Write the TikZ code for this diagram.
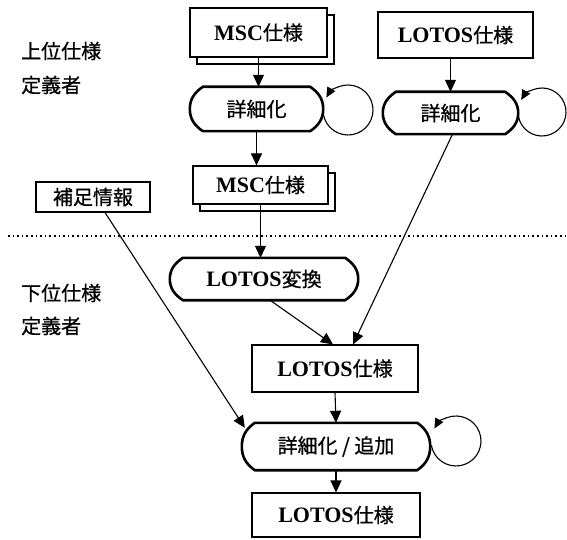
\documentclass[tikz,border=0pt]{standalone}
\usepackage{fontspec}
\setmainfont{Liberation Serif}
\newfontfamily\cjk[FakeBold=0.7]{Noto Sans CJK JP}
\usetikzlibrary{arrows.meta,shadows}
\newcommand{\jp}[1]{{\cjk\fontsize{20}{23}\selectfont #1}}
\newcommand{\lt}[1]{{\bfseries\fontsize{22}{25}\selectfont #1}}
\newcommand{\procpath}[1]{%
  \draw[procline] ([xshift=13pt]#1.north west) -- ([xshift=-13pt]#1.north east)
    to[out=-35,in=90] (#1.east) to[out=-90,in=35] ([xshift=-13pt]#1.south east)
    -- ([xshift=13pt]#1.south west) to[out=145,in=-90] (#1.west)
    to[out=90,in=-145] ([xshift=13pt]#1.north west) -- cycle;}
\begin{document}
\begin{tikzpicture}[x=1pt,y=1pt,font=\fontsize{20}{24}\selectfont,
  box/.style={draw,line width=1.1pt,fill=white,inner sep=0pt},
  shbox/.style={box,copy shadow={shadow xshift=7pt,shadow yshift=-7pt,draw,line width=1.1pt,fill=white}},
  proc/.style={inner sep=0pt},
  procline/.style={line width=2.6pt,line join=round},
  arr/.style={-{Triangle[length=12pt,width=11pt]},line width=1.1pt},
  loopline/.style={line width=1.1pt,-{Triangle[length=10pt,width=9pt]}},
  lab/.style={anchor=west,inner sep=0pt}]
\useasboundingbox (0,0) rectangle (567,539);

% labels
\node[lab] (u1) at (21,488) {\jp{上位仕様}};
\node[lab] (u2) at (21,454) {\jp{定義者}};
\node[lab] (d1) at (21,246) {\jp{下位仕様}};
\node[lab] (d2) at (21,213) {\jp{定義者}};

% dotted separator
\coordinate (sepL) at (8,303);
\coordinate (sepR) at (567,303);
\draw[line width=1.6pt,dash pattern=on 1.6pt off 3pt] (sepL) -- (sepR);

% nodes
\node[shbox,minimum width=137pt,minimum height=49pt] (msc1) at (258.5,506.5) {\lt{MSC}\jp{仕様}};
\node[proc,minimum width=133pt,minimum height=44pt] (proc1) at (256.5,430) {\jp{詳細化}};
\procpath{proc1}
\node[box,minimum width=155pt,minimum height=46pt] (lotos1) at (455.5,504) {\lt{LOTOS}\jp{仕様}};
\node[proc,minimum width=135pt,minimum height=42pt] (proc2) at (450.5,426) {\jp{詳細化}};
\procpath{proc2}
\node[shbox,minimum width=135pt,minimum height=38pt] (msc2) at (260.5,354) {\lt{MSC}\jp{仕様}};
\node[box,minimum width=114pt,minimum height=30pt] (hosoku) at (93,342) {\jp{補足情報}};
\node[proc,minimum width=188pt,minimum height=42pt] (conv) at (264,260) {\lt{LOTOS}\jp{変換}};
\procpath{conv}
\node[box,minimum width=166pt,minimum height=47pt] (lotos2) at (335,170.5) {\lt{LOTOS}\jp{仕様}};
\node[proc,minimum width=188pt,minimum height=47pt] (proc3) at (336,92.5) {\jp{詳細化 / 追加}};
\procpath{proc3}
\node[box,minimum width=168pt,minimum height=44pt] (lotos3) at (336,24) {\lt{LOTOS}\jp{仕様}};

% loops
\coordinate (c1) at (348,429);
\coordinate (c2) at (542,427);
\coordinate (c3) at (456,98);
\draw[loopline] ([shift={(190:25)}]c1) arc[start angle=190,end angle=510,radius=25];
\draw[loopline] ([shift={(190:24)}]c2) arc[start angle=190,end angle=510,radius=24];
\draw[loopline] ([shift={(190:25)}]c3) arc[start angle=190,end angle=510,radius=25];

% arrows
\draw[arr] (msc1.south) -- (msc1.south |- proc1.north);
\draw[arr] (proc1.south) -- (proc1.south |- msc2.north);
\draw[arr] (msc2.south) -- (msc2.south |- conv.north);
\draw[arr] (proc2.north |- lotos1.south) -- (proc2.north);
\draw[arr] ([xshift=2pt]proc2.south) -- ([xshift=18pt]lotos2.north);
\draw[arr] ([xshift=6pt]conv.south) -- ([xshift=-2pt]lotos2.north);
\draw[arr] ([xshift=12pt]hosoku.south) -- ([xshift=3pt,yshift=-5pt]proc3.north west);
\draw[arr] (lotos2.south) -- (proc3.north);
\draw[arr] (proc3.south) -- (lotos3.north);
\end{tikzpicture}
\end{document}
